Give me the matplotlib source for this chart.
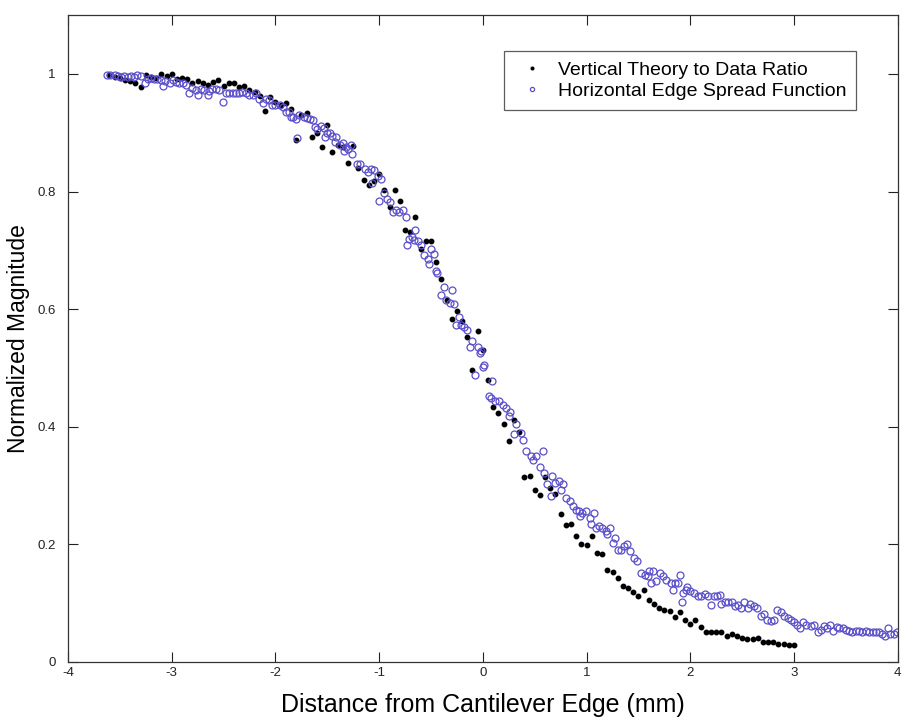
import matplotlib
matplotlib.use("Agg")
import matplotlib.pyplot as plt

plt.rcParams["font.family"] = ["Liberation Sans", "DejaVu Sans"]

# Vertical theory to data ratio (black dots)
vert_x = [-3.60, -3.55, -3.50, -3.45, -3.40, -3.35, -3.30, -3.25, -3.20, -3.15,
          -3.10, -3.05, -3.00, -2.95, -2.90, -2.85, -2.80, -2.75, -2.70, -2.65,
          -2.60, -2.55, -2.50, -2.45, -2.40, -2.35, -2.30, -2.25, -2.20, -2.15,
          -2.10, -2.05, -2.00, -1.95, -1.90, -1.85, -1.80, -1.75, -1.70, -1.65,
          -1.60, -1.55, -1.50, -1.45, -1.40, -1.35, -1.30, -1.25, -1.20, -1.15,
          -1.10, -1.05, -1.00, -0.95, -0.90, -0.85, -0.80, -0.75, -0.70, -0.65,
          -0.60, -0.55, -0.50, -0.45, -0.40, -0.35, -0.30, -0.25, -0.20, -0.15,
          -0.10, -0.05, 0.00, 0.05, 0.10, 0.15, 0.20, 0.25, 0.30, 0.35,
          0.40, 0.45, 0.50, 0.55, 0.60, 0.65, 0.70, 0.75, 0.80, 0.85,
          0.90, 0.95, 1.00, 1.05, 1.10, 1.15, 1.20, 1.25, 1.30, 1.35,
          1.40, 1.45, 1.50, 1.55, 1.60, 1.65, 1.70, 1.75, 1.80, 1.85,
          1.90, 1.95, 2.00, 2.05, 2.10, 2.15, 2.20, 2.25, 2.30, 2.35,
          2.40, 2.45, 2.50, 2.55, 2.60, 2.65, 2.70, 2.75, 2.80, 2.85,
          2.90, 2.95, 3.00]
vert_y = [0.998, 0.995, 0.993, 0.990, 0.988, 0.985, 0.977, 0.999, 0.995, 0.993,
          1.000, 0.996, 1.000, 0.992, 0.993, 0.991, 0.984, 0.988, 0.985, 0.982,
          0.986, 0.990, 0.980, 0.984, 0.985, 0.978, 0.979, 0.972, 0.969, 0.962,
          0.937, 0.961, 0.952, 0.948, 0.950, 0.941, 0.887, 0.930, 0.933, 0.893,
          0.899, 0.876, 0.913, 0.868, 0.879, 0.876, 0.848, 0.877, 0.840, 0.820,
          0.811, 0.818, 0.829, 0.802, 0.774, 0.802, 0.784, 0.735, 0.732, 0.757,
          0.703, 0.715, 0.716, 0.680, 0.652, 0.616, 0.584, 0.597, 0.580, 0.552,
          0.497, 0.562, 0.531, 0.480, 0.433, 0.423, 0.404, 0.375, 0.412, 0.391,
          0.314, 0.317, 0.293, 0.284, 0.314, 0.296, 0.286, 0.252, 0.233, 0.235,
          0.214, 0.201, 0.198, 0.214, 0.186, 0.184, 0.157, 0.153, 0.143, 0.129,
          0.126, 0.119, 0.112, 0.122, 0.105, 0.099, 0.092, 0.089, 0.087, 0.076,
          0.084, 0.071, 0.065, 0.072, 0.059, 0.051, 0.051, 0.051, 0.051, 0.044,
          0.048, 0.044, 0.041, 0.039, 0.039, 0.041, 0.034, 0.034, 0.033, 0.031,
          0.030, 0.029, 0.029]

# Horizontal edge spread function (blue open circles)
horiz_x = [-3.62, -3.59, -3.55, -3.52, -3.49, -3.46, -3.42, -3.39, -3.36, -3.33,
           -3.30, -3.26, -3.23, -3.20, -3.17, -3.14, -3.10, -3.08, -3.06, -3.02,
           -2.99, -2.96, -2.93, -2.89, -2.86, -2.83, -2.80, -2.77, -2.75, -2.72,
           -2.69, -2.65, -2.64, -2.61, -2.57, -2.54, -2.51, -2.48, -2.45, -2.41,
           -2.38, -2.35, -2.32, -2.28, -2.25, -2.22, -2.19, -2.16, -2.12, -2.09,
           -2.06, -2.03, -2.00, -1.96, -1.93, -1.90, -1.87, -1.85, -1.83, -1.80,
           -1.79, -1.77, -1.72, -1.70, -1.67, -1.64, -1.62, -1.60, -1.56, -1.53,
           -1.52, -1.50, -1.47, -1.45, -1.43, -1.42, -1.38, -1.35, -1.34, -1.32,
           -1.30, -1.27, -1.26, -1.21, -1.18, -1.14, -1.11, -1.08, -1.07, -1.05,
           -1.01, -1.00, -0.98, -0.95, -0.92, -0.90, -0.87, -0.84, -0.81, -0.77,
           -0.74, -0.73, -0.71, -0.68, -0.66, -0.65, -0.63, -0.60, -0.57, -0.53,
           -0.52, -0.50, -0.47, -0.45, -0.44, -0.40, -0.37, -0.36, -0.32, -0.30,
           -0.28, -0.26, -0.23, -0.21, -0.18, -0.15, -0.12, -0.10, -0.08, -0.05,
           -0.03, -0.02, 0.00, 0.01, 0.06, 0.08, 0.09, 0.12, 0.16, 0.19,
           0.22, 0.25, 0.26, 0.30, 0.32, 0.37, 0.39, 0.42, 0.46, 0.48,
           0.51, 0.55, 0.58, 0.59, 0.62, 0.66, 0.67, 0.70, 0.73, 0.75,
           0.77, 0.80, 0.84, 0.87, 0.90, 0.93, 0.94, 0.96, 0.99, 1.03,
           1.04, 1.07, 1.09, 1.12, 1.15, 1.19, 1.20, 1.23, 1.25, 1.27,
           1.30, 1.33, 1.36, 1.39, 1.42, 1.46, 1.49, 1.52, 1.56, 1.59,
           1.60, 1.62, 1.64, 1.67, 1.71, 1.74, 1.77, 1.81, 1.83, 1.85,
           1.88, 1.90, 1.92, 1.93, 1.96, 1.97, 2.00, 2.04, 2.07, 2.10,
           2.14, 2.17, 2.20, 2.23, 2.26, 2.29, 2.30, 2.33, 2.36, 2.40,
           2.43, 2.46, 2.49, 2.52, 2.56, 2.58, 2.61, 2.64, 2.68, 2.71,
           2.74, 2.78, 2.81, 2.84, 2.87, 2.90, 2.94, 2.97, 3.00, 3.03,
           3.06, 3.09, 3.12, 3.16, 3.19, 3.23, 3.26, 3.29, 3.32, 3.35,
           3.38, 3.41, 3.43, 3.47, 3.50, 3.53, 3.56, 3.60, 3.63, 3.66,
           3.69, 3.72, 3.76, 3.79, 3.82, 3.85, 3.88, 3.91, 3.93, 3.96,
           3.99]
horiz_y = [0.998, 0.999, 0.998, 0.997, 0.995, 0.997, 0.995, 0.997, 0.995, 0.998,
           0.997, 0.985, 0.992, 0.993, 0.991, 0.992, 0.989, 0.980, 0.988, 0.985,
           0.989, 0.986, 0.984, 0.985, 0.982, 0.967, 0.976, 0.972, 0.964, 0.975,
           0.972, 0.964, 0.971, 0.974, 0.975, 0.972, 0.952, 0.967, 0.967, 0.968,
           0.968, 0.967, 0.969, 0.967, 0.964, 0.964, 0.967, 0.958, 0.951, 0.958,
           0.955, 0.948, 0.948, 0.947, 0.944, 0.935, 0.935, 0.927, 0.927, 0.924,
           0.891, 0.930, 0.927, 0.925, 0.923, 0.921, 0.910, 0.907, 0.912, 0.908,
           0.893, 0.900, 0.900, 0.895, 0.885, 0.893, 0.879, 0.882, 0.869, 0.876,
           0.872, 0.879, 0.863, 0.846, 0.846, 0.839, 0.834, 0.838, 0.814, 0.836,
           0.827, 0.784, 0.822, 0.797, 0.787, 0.783, 0.766, 0.769, 0.766, 0.769,
           0.757, 0.709, 0.720, 0.723, 0.718, 0.735, 0.715, 0.709, 0.692, 0.686,
           0.676, 0.703, 0.693, 0.664, 0.661, 0.624, 0.638, 0.616, 0.610, 0.633,
           0.608, 0.573, 0.587, 0.573, 0.570, 0.565, 0.535, 0.546, 0.488, 0.535,
           0.525, 0.528, 0.501, 0.505, 0.452, 0.448, 0.477, 0.443, 0.443, 0.437,
           0.432, 0.419, 0.425, 0.388, 0.404, 0.389, 0.378, 0.358, 0.350, 0.344,
           0.350, 0.331, 0.359, 0.321, 0.302, 0.282, 0.316, 0.304, 0.307, 0.293,
           0.302, 0.279, 0.273, 0.265, 0.259, 0.256, 0.248, 0.253, 0.256, 0.245,
           0.234, 0.253, 0.228, 0.231, 0.228, 0.222, 0.218, 0.228, 0.203, 0.211,
           0.191, 0.191, 0.197, 0.200, 0.188, 0.177, 0.171, 0.152, 0.148, 0.146,
           0.154, 0.135, 0.154, 0.138, 0.152, 0.146, 0.140, 0.135, 0.122, 0.135,
           0.135, 0.148, 0.101, 0.118, 0.122, 0.127, 0.121, 0.118, 0.112, 0.112,
           0.115, 0.112, 0.097, 0.112, 0.112, 0.114, 0.099, 0.101, 0.102, 0.101,
           0.095, 0.097, 0.091, 0.101, 0.091, 0.098, 0.095, 0.092, 0.078, 0.081,
           0.072, 0.070, 0.072, 0.089, 0.084, 0.078, 0.075, 0.072, 0.067, 0.063,
           0.058, 0.067, 0.063, 0.061, 0.063, 0.050, 0.055, 0.061, 0.057, 0.063,
           0.053, 0.059, 0.058, 0.057, 0.055, 0.053, 0.050, 0.053, 0.053, 0.050,
           0.053, 0.050, 0.050, 0.050, 0.050, 0.047, 0.044, 0.058, 0.047, 0.047,
           0.050]

x_ticks = [-4, -3, -2, -1, 0, 1, 2, 3, 4]
y_ticks = [0, 0.2, 0.4, 0.6, 0.8, 1]
y_tick_labels = ["0", "0.2", "0.4", "0.6", "0.8", "1"]

fig = plt.figure(figsize=(9.05, 7.21), dpi=100)
ax = fig.add_axes([0.0751, 0.082, 0.9169, 0.897])

ax.plot(vert_x, vert_y, linestyle="none", marker="o", markersize=3.2,
        color="black", label="Vertical Theory to Data Ratio")
ax.plot(horiz_x, horiz_y, linestyle="none", marker="o", markersize=5,
        markerfacecolor="none", markeredgecolor="#5a4fc9", markeredgewidth=0.9,
        label="Horizontal Edge Spread Function")

ax.set_xlim(-4, 4)
ax.set_ylim(0, 1.1)
ax.set_xticks(x_ticks)
ax.set_xticklabels([str(t) for t in x_ticks])
ax.set_yticks(y_ticks)
ax.set_yticklabels(y_tick_labels)
ax.tick_params(direction="in", length=7, width=0.8, labelsize=9.5,
               top=True, right=True, colors="#222222")
ax.tick_params(axis="y", pad=9)
ax.tick_params(axis="x", pad=4)
for sp in ax.spines.values():
    sp.set_linewidth(0.9)
    sp.set_color("#333333")

ax.set_xlabel("Distance from Cantilever Edge (mm)", fontsize=18, labelpad=10)
ax.set_ylabel("Normalized Magnitude", fontsize=16.5, labelpad=5)

leg = ax.legend(loc="upper left", bbox_to_anchor=(0.525, 0.944), fontsize=14,
                frameon=True, fancybox=False, edgecolor="#333333",
                handlelength=1.9, handletextpad=0.4, borderpad=0.5,
                borderaxespad=0, labelspacing=0.2, markerscale=0.6)
leg.get_frame().set_linewidth(0.9)

fig.savefig("out.png", dpi=100)
